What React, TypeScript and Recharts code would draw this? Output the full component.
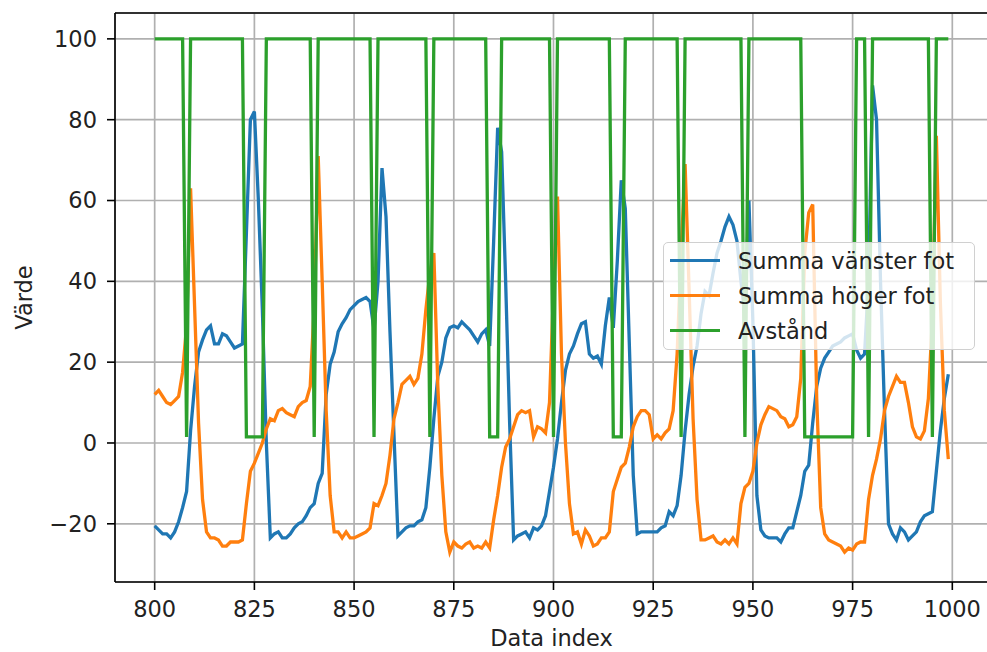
import { LineChart, Line, XAxis, YAxis, CartesianGrid, Legend, ReferenceLine } from 'recharts';

// data index of the first sample
const START_INDEX = 800;

// Summa vänster fot, index 800..999 (rows of 10)
const leftFoot = [
    -20.5, -21.5, -22.5, -22.5, -23.5, -22, -19.5, -16, -12, 3,
    14, 22.5, 25.5, 28, 29, 24.5, 24.5, 27, 26.5, 25,
    23.5, 24, 24.5, 52, 80, 82, 60, 33, 0, -23.5,
    -22.5, -22, -23.5, -23.5, -22.5, -21, -20, -19.5, -18, -16,
    -15, -10, -7.5, 12, 19.5, 22.5, 27.5, 29.5, 31, 33,
    34, 35, 35.5, 36, 35, 28, 40, 68, 56, 27.5,
    2, -23, -22, -21, -20.5, -20.5, -19.5, -19, -16, -6,
    6, 16.5, 20, 26, 28.5, 29, 28.5, 30, 29, 28,
    26.5, 25, 27, 28, 24, 50, 78, 72, 40, 5,
    -24, -23, -22.5, -22, -23.5, -21, -21.5, -20.5, -18, -12,
    -6, 1, 10, 18, 22, 24, 27, 29.5, 30, 22,
    21, 21.5, 19.5, 29, 36, 28.5, 45, 65, 58, 25,
    -8, -22.5, -22, -22, -22, -22, -22, -21, -20.5, -17,
    -18, -15.5, -8, 3, 12, 19, 24, 32, 37.5, 36.5,
    42, 47, 50, 53.5, 56, 54, 50, 40, 32, 60,
    30, -13, -21.5, -23, -23.5, -23.5, -23.5, -24.5, -22.5, -21,
    -21, -17, -13, -7, -5.5, 5, 14, 18.5, 21, 22.5,
    24, 24.5, 25, 26, 26.5, 27, 23, 21, 22, 40,
    88.5, 80, 40, 8, -20, -22.5, -24, -21, -22, -24,
    -23, -22, -19.5, -18, -17.5, -17, -7, 3, 11, 17,
];

// Summa höger fot
const rightFoot = [
    12, 13, 11.5, 10, 9.5, 10.5, 11.5, 17.5, 29, 63,
    34, 5, -14, -22, -23.5, -23.5, -24, -25.5, -25.5, -24.5,
    -24.5, -24.5, -24, -15, -7, -5, -2.5, 0, 3.5, 6,
    5.5, 8, 8.5, 7.5, 7, 6.5, 9, 10, 10.5, 14,
    34, 71, 40, 8, -13, -22, -22, -23.5, -22, -23.5,
    -23.5, -23, -22.5, -22, -21, -15, -15.5, -13, -10, -3,
    6, 10, 14.5, 15.5, 16.5, 14.5, 16, 22, 33, 42,
    47, 14, -8, -22, -27, -24.5, -25.5, -26, -25, -24.5,
    -26, -25.5, -26, -24.5, -26, -19, -13, -6, -1, 1,
    4, 7, 8, 7.5, 8, 1.5, 4, 3.5, 2.5, 10,
    38, 61, 22, 0, -15, -22.5, -22, -25, -21.5, -23,
    -25.5, -25, -23.5, -23.5, -22, -12, -9, -6, -5, -1,
    4, 6.5, 8, 8, 7, 1, 2, 1, 2.5, 3.5,
    8, 22, 47, 69, 38, 6, -14, -24, -24, -23.5,
    -23, -24.5, -25, -24, -25, -23.5, -25, -15, -11, -10,
    -7, 0, 4.5, 7, 9, 8.5, 8, 6.5, 6, 4,
    4.5, 6.5, 16, 47, 57, 59, 11, -16, -22.5, -24,
    -24.5, -25, -25.5, -27, -26, -26.5, -25, -24.5, -24.5, -14,
    -8, -4, 1, 8, 11.5, 14, 16.5, 15, 15, 10,
    4, 1.5, 1, 3, 11, 31, 76, 35, 8, -4,
];

// Avstånd
const distance = [
    100, 100, 100, 100, 100, 100, 100, 100, 1.5, 100,
    100, 100, 100, 100, 100, 100, 100, 100, 100, 100,
    100, 100, 100, 1.5, 1.5, 1.5, 1.5, 1.5, 100, 100,
    100, 100, 100, 100, 100, 100, 100, 100, 100, 100,
    1.5, 100, 100, 100, 100, 100, 100, 100, 100, 100,
    100, 100, 100, 100, 100, 1.5, 100, 100, 100, 100,
    100, 100, 100, 100, 100, 100, 100, 100, 100, 1.5,
    100, 100, 100, 100, 100, 100, 100, 100, 100, 100,
    100, 100, 100, 100, 1.5, 1.5, 1.5, 100, 100, 100,
    100, 100, 100, 100, 100, 100, 100, 100, 100, 100,
    1.5, 100, 100, 100, 100, 100, 100, 100, 100, 100,
    100, 100, 100, 100, 100, 1.5, 1.5, 1.5, 100, 100,
    100, 100, 100, 100, 100, 100, 100, 100, 100, 100,
    100, 100, 1.5, 100, 100, 100, 100, 100, 100, 100,
    100, 100, 100, 100, 100, 100, 100, 100, 1.5, 100,
    100, 100, 100, 100, 100, 100, 100, 100, 100, 100,
    100, 100, 100, 1.5, 1.5, 1.5, 1.5, 1.5, 1.5, 1.5,
    1.5, 1.5, 1.5, 1.5, 1.5, 1.5, 100, 100, 100, 1.5,
    100, 100, 100, 100, 100, 100, 100, 100, 100, 100,
    100, 100, 100, 100, 100, 1.5, 100, 100, 100, 100,
];

const xTicks = [800, 825, 850, 875, 900, 925, 950, 975, 1000];
const yTicks = [-20, 0, 20, 40, 60, 80, 100];
const xDomain = [790.05, 1008.95];
const yDomain = [-34.4, 106.4];
const seriesKeys = ['left', 'right', 'dist'];
const seriesNames = ['Summa vänster fot', 'Summa höger fot', 'Avstånd'];
const seriesColors = ['#1f77b4', '#ff7f0e', '#2ca02c'];

const data = leftFoot.map((v, i) => ({
    idx: START_INDEX + i,
    left: v,
    right: rightFoot[i],
    dist: distance[i],
}));

const FONT = '"DejaVu Sans", sans-serif';
const TEXT = '#222';

const XLabel = (props: any) => {
    const { viewBox } = props;
    const cx = viewBox.x + viewBox.width / 2;
    return (
        <text x={cx} y={638} textAnchor="middle" dominantBaseline="central" fontSize={22.5} fill={TEXT} fontFamily={FONT}>
            Data index
        </text>
    );
};

const YLabel = (props: any) => {
    const { viewBox } = props;
    const cx = 24;
    const cy = viewBox.y + viewBox.height / 2;
    return (
        <text x={cx} y={cy} transform={`rotate(-90, ${cx}, ${cy})`} textAnchor="middle" dominantBaseline="central" fontSize={22.5} fill={TEXT} fontFamily={FONT}>
            Värde
        </text>
    );
};

const LegendBox = () => (
    <div style={{
        width: 312, height: 108, boxSizing: 'border-box',
        background: 'rgba(255,255,255,0.8)', border: '1.5px solid #d0d0d0', borderRadius: 5,
        fontFamily: FONT, fontSize: 22.5, color: TEXT,
    }}>
        {seriesNames.map((name, i) => (
            <div key={name} style={{ display: 'flex', alignItems: 'center', height: 35 }}>
                <div style={{ width: 50, height: 3.3, background: seriesColors[i], marginLeft: 6, marginRight: 18 }} />
                <span style={{ whiteSpace: 'nowrap' }}>{name}</span>
            </div>
        ))}
    </div>
);

const minus = (v: number) => String(v).replace('-', '\u2212');

export default function App() {
    return (
        <div style={{ position: 'fixed', left: 0, top: 0, width: 987, height: 652, overflow: 'hidden', background: '#fff', fontFamily: FONT }}>
            <LineChart width={1000} height={652} data={data} margin={{ top: 13, right: 12, bottom: 0, left: 0 }}>
                <CartesianGrid stroke="#b0b0b0" strokeWidth={1.7} />
                <XAxis
                    dataKey="idx"
                    type="number"
                    domain={xDomain}
                    ticks={xTicks}
                    allowDataOverflow
                    height={70}
                    tickSize={8}
                    tickMargin={11}
                    tick={{ fill: TEXT, fontSize: 22.5, fontFamily: FONT }}
                    axisLine={{ stroke: '#000', strokeWidth: 1.6 }}
                    tickLine={{ stroke: '#000', strokeWidth: 1.6 }}
                    label={<XLabel />}
                />
                <YAxis
                    type="number"
                    domain={yDomain}
                    ticks={yTicks}
                    allowDataOverflow
                    width={115}
                    tickSize={8}
                    tickMargin={10}
                    tickFormatter={minus}
                    tick={{ fill: TEXT, fontSize: 22.5, fontFamily: FONT }}
                    axisLine={{ stroke: '#000', strokeWidth: 1.6 }}
                    tickLine={{ stroke: '#000', strokeWidth: 1.6 }}
                    label={<YLabel />}
                />
                {/* top spine of the frame */}
                <ReferenceLine y={yDomain[1]} stroke="#000" strokeWidth={1.6} />
                {seriesKeys.map((key, i) => (
                    <Line
                        key={key}
                        type="linear"
                        dataKey={key}
                        name={seriesNames[i]}
                        stroke={seriesColors[i]}
                        strokeWidth={3.3}
                        dot={false}
                        activeDot={false}
                        isAnimationActive={false}
                    />
                ))}
                <Legend
                    layout="horizontal"
                    verticalAlign="middle"
                    align="center"
                    content={<LegendBox />}
                    wrapperStyle={{ left: 663, top: 242, width: 312, height: 108 }}
                />
            </LineChart>
        </div>
    );
}
